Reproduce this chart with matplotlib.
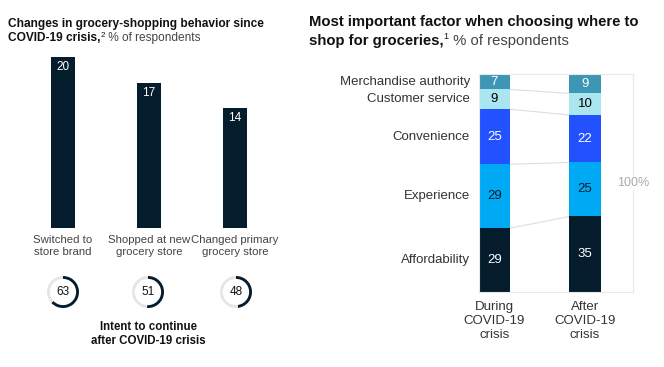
import matplotlib
matplotlib.use("Agg")
import matplotlib.pyplot as plt
import matplotlib.transforms as mtransforms

plt.rcParams['font.family'] = ['Liberation Sans', 'DejaVu Sans']

# ---- data ----
behaviors = ["Switched to\nstore brand", "Shopped at new\ngrocery store", "Changed primary\ngrocery store"]
behavior_pct = [20, 17, 14]
intent_pct = [63, 51, 48]

factors = ["Affordability", "Experience", "Convenience", "Customer service", "Merchandise authority"]
periods = ["During\nCOVID-19\ncrisis", "After\nCOVID-19\ncrisis"]
during = [29, 29, 25, 9, 7]
after = [35, 25, 22, 10, 9]

NAVY = "#051C2C"
factor_colors = ["#051C2C", "#00A9F4", "#2251FF", "#AAE6F0", "#3C96B4"]
factor_txt = ["white", "#051C2C", "white", "black", "white"]
TXT = "#333333"

W, H = 664, 367
fig = plt.figure(figsize=(W / 100, H / 100), dpi=100)


def px(x0, y0, w, h):
    """pixel box (left, top, width, height) -> figure fraction rect"""
    return [x0 / W, (H - y0 - h) / H, w / W, h / H]


renderer = fig.canvas.get_renderer()


def rich_line(x, y, parts):
    """parts: list of (text, size, weight, color, dy_px)  x,y in pixels (y from top, baseline)"""
    cx = x
    for txt, size, weight, color, dy in parts:
        t = fig.text(cx / W, (H - y + dy) / H, txt, fontsize=size, fontweight=weight,
                     color=color, va='baseline', ha='left')
        bb = t.get_window_extent(renderer)
        cx += bb.width


# ---- left titles ----
rich_line(8, 27, [("Changes in grocery-shopping behavior since", 8.6, 'bold', "#111111", 0)])
rich_line(8, 41, [("COVID-19 crisis,", 8.6, 'bold', "#111111", 0),
                  ("2", 5.8, 'normal', "#111111", 4),
                  (" % of respondents", 8.6, 'normal', "#444444", 0)])

# ---- right titles ----
rich_line(309, 26, [("Most important factor when choosing where to", 10.7, 'bold', "#111111", 0)])
rich_line(309, 45, [("shop for groceries,", 10.7, 'bold', "#111111", 0),
                    ("1", 6.5, 'normal', "#111111", 6),
                    (" % of respondents", 10.7, 'normal', "#444444", 0)])

# ---- left bar chart ----
axL = fig.add_axes(px(20, 57, 258, 171))
xs = list(range(len(behaviors)))
axL.bar(xs, behavior_pct, width=0.28, color=NAVY)
axL.set_xlim(-0.5, 2.5)
axL.set_ylim(0, 20)
axL.axis('off')
for x, v in zip(xs, behavior_pct):
    axL.annotate(str(v), (x, v), xytext=(0, -10), textcoords='offset pixels',
                 ha='center', va='center', color='white', fontsize=8.5)
    axL.annotate(behaviors[x], (x, 0), xytext=(0, -7), textcoords='offset pixels',
                 ha='center', va='top', color="#444444", fontsize=8.2, linespacing=1.2)

# ---- donuts ----
donut_cx = [63, 148, 236]
for cx, v in zip(donut_cx, intent_pct):
    axd = fig.add_axes(px(cx - 20, 292 - 20, 40, 40))
    axd.pie([v, 100 - v], colors=[NAVY, "#E6E6E6"], startangle=90, counterclock=False,
            wedgeprops=dict(width=0.18, linewidth=0))
    axd.set_aspect('equal')
    axd.text(0, 0, str(v), ha='center', va='center', fontsize=8.5, color='#111111')

fig.text(148 / W, (H - 334) / H, "Intent to continue\nafter COVID-19 crisis", ha='center', va='center',
         fontsize=8.3, fontweight='bold', color='#111111', linespacing=1.25)

# ---- right stacked chart ----
axR = fig.add_axes(px(479, 74, 154, 218))
bw = 0.343
xpos = [0, 1]
tot_d = sum(during)
tot_a = sum(after)
d_norm = [v / tot_d * 100 for v in during]
a_norm = [v / tot_a * 100 for v in after]

bd = 0
ba = 0
bounds_d, bounds_a = [], []
trans = mtransforms.blended_transform_factory(axR.transAxes, axR.transData)
for i, f in enumerate(factors):
    axR.bar(xpos[0], d_norm[i], bottom=bd, width=bw, color=factor_colors[i], linewidth=0)
    axR.bar(xpos[1], a_norm[i], bottom=ba, width=bw, color=factor_colors[i], linewidth=0)
    axR.text(xpos[0], bd + d_norm[i] / 2, str(during[i]), ha='center', va='center',
             color=factor_txt[i], fontsize=9.5)
    axR.text(xpos[1], ba + a_norm[i] / 2, str(after[i]), ha='center', va='center',
             color=factor_txt[i], fontsize=9.5)
    axR.text(-0.06, bd + d_norm[i] / 2, f, transform=trans, ha='right', va='center',
             color=TXT, fontsize=9.5)
    bd += d_norm[i]
    ba += a_norm[i]
    bounds_d.append(bd)
    bounds_a.append(ba)

for yd, ya in zip(bounds_d[:-1], bounds_a[:-1]):
    axR.plot([xpos[0] + bw / 2, xpos[1] - bw / 2], [yd, ya], color="#DDDDDD", lw=0.8, zorder=0)

axR.set_xlim(-0.171, 1.53)
axR.set_ylim(0, 100)
axR.set_xticks([])
axR.set_yticks([])
for s in axR.spines.values():
    s.set_color("#E8E8E8")
    s.set_linewidth(0.8)
for x, lab in zip(xpos, periods):
    axR.annotate(lab, (x, 0), xytext=(0, -9), textcoords='offset pixels', ha='center', va='top',
                 color=TXT, fontsize=9.5, linespacing=1.2, annotation_clip=False)
axR.text(1.0, 0.5, "100%", transform=axR.transAxes, ha='center', va='center', color="#AAAAAA",
         fontsize=9, bbox=dict(facecolor='white', edgecolor='none', pad=1), clip_on=False)

fig.savefig("out.png", dpi=100, facecolor='white')
